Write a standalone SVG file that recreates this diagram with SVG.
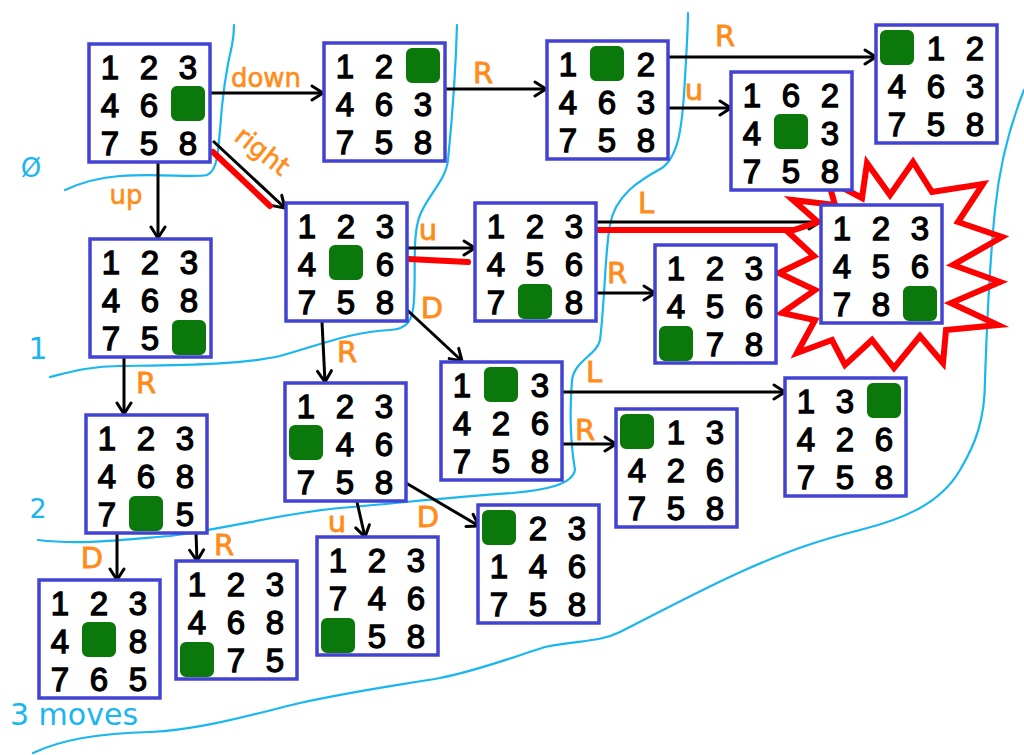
<svg xmlns="http://www.w3.org/2000/svg" width="1024" height="755" viewBox="0 0 1024 755">
<style>
.box{fill:#fff;stroke:#4343d3;stroke-width:3.5}
.blank{fill:#0a780a;stroke:#0a780a;stroke-width:2;stroke-linejoin:round}
.d{font-family:"Liberation Sans",Arial,sans-serif;font-size:33px;fill:#000;stroke:#000;stroke-width:1.3;text-anchor:middle}
.edge{stroke:#000;stroke-width:3;fill:none;marker-end:url(#arr)}
.hl{stroke:#ff0000;stroke-width:6;fill:none;stroke-linecap:round}
.lbl{font-family:"DejaVu Sans",sans-serif;font-size:29px;fill:#ff8c1a;stroke:#ff8c1a;stroke-width:0.8;text-anchor:middle}
.wl{font-family:"DejaVu Sans",sans-serif;font-size:26px;fill:#ff8c1a;stroke:#ff8c1a;stroke-width:0.6;text-anchor:middle}
.lvl{stroke:#1ab6ef;stroke-width:2.2;fill:none;stroke-linecap:round}
.lvt{font-family:"DejaVu Sans",sans-serif;fill:#1ab6ef}
</style>
<defs>
<marker id="arr" markerUnits="userSpaceOnUse" markerWidth="18" markerHeight="18" refX="14" refY="9" orient="auto">
<path d="M3,2 L14,9 L3,16" fill="none" stroke="#000" stroke-width="3" stroke-linecap="round" stroke-linejoin="round"/>
</marker>
</defs>
<rect width="1024" height="755" fill="#fff"/>

<g id="levels">
<path class="lvl" d="M65,190 C80,183 95,178 120,176 C160,173 190,178 207,175 C218,170 218,150 220,130 C222,100 226,70 232,45 C234,35 234,28 234,25"/>
<path class="lvl" d="M50,377 C70,372 90,366 120,366 C180,365 240,365 280,356 C320,345 350,332 390,330 C408,329 413,320 414,300 C416,270 412,235 420,215 C428,195 446,180 448,160 C452,120 456,60 457,25"/>
<path class="lvl" d="M38,540 C80,545 120,540 170,536 C230,528 290,512 340,508 C400,503 450,497 512,493 C545,490 572,485 575,470 C570,440 570,405 572,380 C575,360 597,355 600,340 C605,300 605,250 610,225 C615,195 640,180 662,168 C680,155 682,120 684,95 C686,60 688,30 688,13"/>
<path class="lvl" d="M33,753 C60,740 100,733 150,732 C200,730 250,715 300,703 C360,690 400,685 440,678 C480,670 510,658 545,647 C580,640 600,642 620,632 C660,612 700,590 745,570 C790,550 820,540 860,530 C900,520 940,505 960,470 C975,445 985,420 985,380 C987,320 990,260 995,210 C1000,160 1012,120 1024,90"/>
<text class="lvt" x="31" y="177" font-size="26" text-anchor="middle">Ø</text>
<text class="lvt" x="38" y="359" font-size="30" text-anchor="middle">1</text>
<text class="lvt" x="38" y="518" font-size="27" text-anchor="middle">2</text>
<text class="lvt" x="10" y="725" font-size="30">3 moves</text>
</g>

<g id="connectors">
<line class="edge" x1="210" y1="93" x2="323" y2="93"/>
<line class="edge" x1="213" y1="141" x2="285" y2="208"/>
<line class="hl" x1="213" y1="152" x2="270" y2="206"/>
<line class="edge" x1="158" y1="163" x2="158" y2="238"/>
<line class="edge" x1="445" y1="89" x2="546" y2="89"/>
<line class="edge" x1="669" y1="57" x2="876" y2="57"/>
<line class="edge" x1="668" y1="108" x2="731" y2="108"/>
<line class="edge" x1="407" y1="248" x2="475" y2="248"/>
<line class="hl" x1="408" y1="259" x2="468" y2="262"/>
<line class="edge" x1="595" y1="222" x2="820" y2="222"/>
<line class="hl" x1="594" y1="230" x2="792" y2="230"/>
<line class="edge" x1="595" y1="293" x2="655" y2="293"/>
<line class="edge" x1="405" y1="308" x2="462" y2="361"/>
<line class="edge" x1="322" y1="322" x2="325" y2="382"/>
<line class="edge" x1="124" y1="358" x2="124" y2="414"/>
<line class="edge" x1="562" y1="392" x2="785" y2="392"/>
<line class="edge" x1="562" y1="444" x2="616" y2="444"/>
<line class="edge" x1="357" y1="502" x2="365" y2="537"/>
<line class="edge" x1="406" y1="483" x2="479" y2="526"/>
<line class="edge" x1="117" y1="533" x2="117" y2="580"/>
<line class="edge" x1="196" y1="533" x2="197" y2="561"/>
<text class="wl" x="266" y="87">down</text>
<text class="wl" transform="translate(257,158) rotate(38)">right</text>
<text class="wl" x="126" y="204">up</text>
<text class="lbl" x="483" y="83">R</text>
<text class="lbl" x="725" y="46">R</text>
<text class="lbl" x="694" y="100">u</text>
<text class="lbl" x="428" y="240">u</text>
<text class="lbl" x="646" y="213">L</text>
<text class="lbl" x="617" y="283">R</text>
<text class="lbl" x="432" y="318">D</text>
<text class="lbl" x="347" y="362">R</text>
<text class="lbl" x="146" y="393">R</text>
<text class="lbl" x="594" y="382">L</text>
<text class="lbl" x="585" y="440">R</text>
<text class="lbl" x="337" y="532">u</text>
<text class="lbl" x="428" y="527">D</text>
<text class="lbl" x="92" y="568">D</text>
<text class="lbl" x="224" y="555">R</text>
</g>

<g id="goal-burst">
<polygon points="793,200 835,205 828,180 862,198 867,163 890,195 913,162 932,192 983,184 958,222 1002,237 953,265 1000,282 951,303 998,325 946,330 943,363 920,336 894,368 872,340 845,365 832,340 797,353 815,320 782,313 815,290 779,273 814,256 788,232 818,222" fill="none" stroke="#ff0000" stroke-width="6" stroke-linejoin="miter"/>
</g>

<g id="n-start" transform="translate(89,44)">
<rect class="box" width="121" height="118"/><rect class="blank" x="83" y="43" width="32" height="33" rx="5"/>
<text class="d" x="21 60 99" y="35">123</text><text class="d" x="21 60" y="73">46</text><text class="d" x="21 60 99" y="111">758</text>
</g>
<g id="n-down" transform="translate(324,43)">
<rect class="box" width="121" height="118"/><rect class="blank" x="83" y="6" width="32" height="33" rx="5"/>
<text class="d" x="21 60" y="35">12</text><text class="d" x="21 60 99" y="73">463</text><text class="d" x="21 60 99" y="111">758</text>
</g>
<g id="n-up" transform="translate(90,239)">
<rect class="box" width="121" height="118"/><rect class="blank" x="83" y="82" width="32" height="33" rx="5"/>
<text class="d" x="21 60 99" y="35">123</text><text class="d" x="21 60 99" y="73">468</text><text class="d" x="21 60" y="111">75</text>
</g>
<g id="n-right" transform="translate(286,203)">
<rect class="box" width="121" height="118"/><rect class="blank" x="44" y="43" width="32" height="33" rx="5"/>
<text class="d" x="21 60 99" y="35">123</text><text class="d" x="21 99" y="73">46</text><text class="d" x="21 60 99" y="111">758</text>
</g>
<g id="n-down-R" transform="translate(547,41)">
<rect class="box" width="121" height="118"/><rect class="blank" x="44" y="6" width="32" height="33" rx="5"/>
<text class="d" x="21 99" y="35">12</text><text class="d" x="21 60 99" y="73">463</text><text class="d" x="21 60 99" y="111">758</text>
</g>
<g id="n-down-R-u" transform="translate(731,72)">
<rect class="box" width="121" height="118"/><rect class="blank" x="44" y="43" width="32" height="33" rx="5"/>
<text class="d" x="21 60 99" y="35">162</text><text class="d" x="21 99" y="73">43</text><text class="d" x="21 60 99" y="111">758</text>
</g>
<g id="n-down-R-R" transform="translate(876,25)">
<rect class="box" width="121" height="118"/><rect class="blank" x="5" y="6" width="32" height="33" rx="5"/>
<text class="d" x="60 99" y="35">12</text><text class="d" x="21 60 99" y="73">463</text><text class="d" x="21 60 99" y="111">758</text>
</g>
<g id="n-right-u" transform="translate(475,203)">
<rect class="box" width="121" height="118"/><rect class="blank" x="44" y="82" width="32" height="33" rx="5"/>
<text class="d" x="21 60 99" y="35">123</text><text class="d" x="21 60 99" y="73">456</text><text class="d" x="21 99" y="111">78</text>
</g>
<g id="n-goal" transform="translate(821,205)">
<rect class="box" width="121" height="118"/><rect class="blank" x="83" y="82" width="32" height="33" rx="5"/>
<text class="d" x="21 60 99" y="35">123</text><text class="d" x="21 60 99" y="73">456</text><text class="d" x="21 60" y="111">78</text>
</g>
<g id="n-right-u-R" transform="translate(655,245)">
<rect class="box" width="121" height="118"/><rect class="blank" x="5" y="82" width="32" height="33" rx="5"/>
<text class="d" x="21 60 99" y="35">123</text><text class="d" x="21 60 99" y="73">456</text><text class="d" x="60 99" y="111">78</text>
</g>
<g id="n-right-D" transform="translate(441,362)">
<rect class="box" width="121" height="118"/><rect class="blank" x="44" y="6" width="32" height="33" rx="5"/>
<text class="d" x="21 99" y="35">13</text><text class="d" x="21 60 99" y="73">426</text><text class="d" x="21 60 99" y="111">758</text>
</g>
<g id="n-right-D-R" transform="translate(616,409)">
<rect class="box" width="121" height="118"/><rect class="blank" x="5" y="6" width="32" height="33" rx="5"/>
<text class="d" x="60 99" y="35">13</text><text class="d" x="21 60 99" y="73">426</text><text class="d" x="21 60 99" y="111">758</text>
</g>
<g id="n-right-D-L" transform="translate(785,378)">
<rect class="box" width="121" height="118"/><rect class="blank" x="83" y="6" width="32" height="33" rx="5"/>
<text class="d" x="21 60" y="35">13</text><text class="d" x="21 60 99" y="73">426</text><text class="d" x="21 60 99" y="111">758</text>
</g>
<g id="n-up-R" transform="translate(86,415)">
<rect class="box" width="121" height="118"/><rect class="blank" x="44" y="82" width="32" height="33" rx="5"/>
<text class="d" x="21 60 99" y="35">123</text><text class="d" x="21 60 99" y="73">468</text><text class="d" x="21 99" y="111">75</text>
</g>
<g id="n-right-R" transform="translate(285,383)">
<rect class="box" width="121" height="118"/><rect class="blank" x="5" y="43" width="32" height="33" rx="5"/>
<text class="d" x="21 60 99" y="35">123</text><text class="d" x="60 99" y="73">46</text><text class="d" x="21 60 99" y="111">758</text>
</g>
<g id="n-up-R-D" transform="translate(39,580)">
<rect class="box" width="121" height="118"/><rect class="blank" x="44" y="43" width="32" height="33" rx="5"/>
<text class="d" x="21 60 99" y="35">123</text><text class="d" x="21 99" y="73">48</text><text class="d" x="21 60 99" y="111">765</text>
</g>
<g id="n-up-R-R" transform="translate(176,561)">
<rect class="box" width="121" height="118"/><rect class="blank" x="5" y="82" width="32" height="33" rx="5"/>
<text class="d" x="21 60 99" y="35">123</text><text class="d" x="21 60 99" y="73">468</text><text class="d" x="60 99" y="111">75</text>
</g>
<g id="n-right-R-u" transform="translate(317,537)">
<rect class="box" width="121" height="118"/><rect class="blank" x="5" y="82" width="32" height="33" rx="5"/>
<text class="d" x="21 60 99" y="35">123</text><text class="d" x="21 60 99" y="73">746</text><text class="d" x="60 99" y="111">58</text>
</g>
<g id="n-right-R-D" transform="translate(478,505)">
<rect class="box" width="121" height="118"/><rect class="blank" x="5" y="6" width="32" height="33" rx="5"/>
<text class="d" x="60 99" y="35">23</text><text class="d" x="21 60 99" y="73">146</text><text class="d" x="21 60 99" y="111">758</text>
</g>
</svg>
